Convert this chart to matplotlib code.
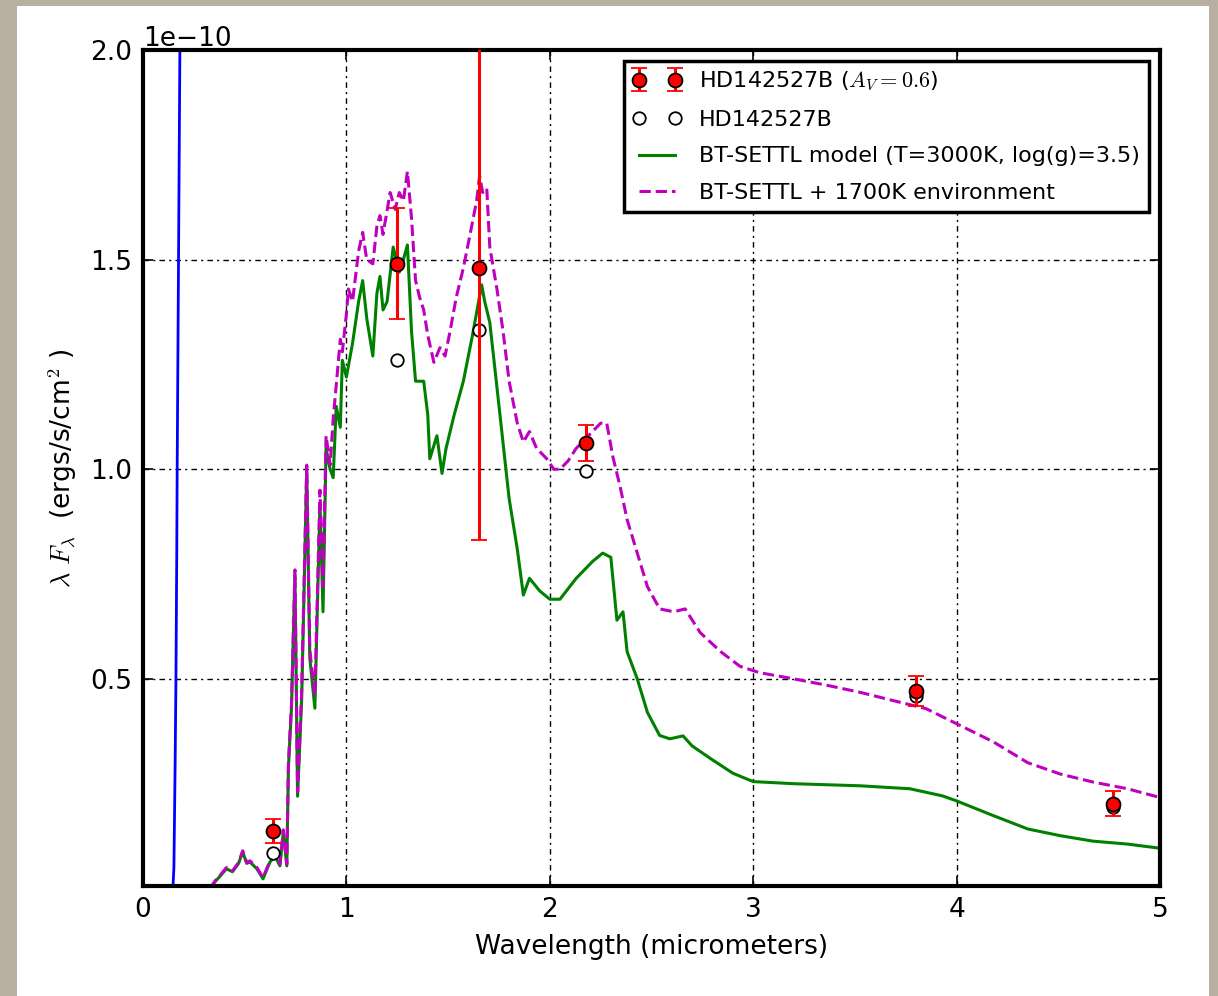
import numpy as np
import matplotlib
matplotlib.use("Agg")
import matplotlib.pyplot as plt
from matplotlib.patches import Rectangle

plt.rcParams['mathtext.fontset'] = 'cm'
plt.rcParams['font.family'] = ['DejaVu Sans']

# photometry (units of 1e-10 ergs/s/cm2)
phot_wl = [0.64, 1.25, 1.65, 2.18, 3.80, 4.77]
phot_dered = [0.137, 1.490, 1.481, 1.063, 0.471, 0.202]
phot_err = [0.028, 0.132, 0.650, 0.043, 0.036, 0.030]
phot_raw = [0.085, 1.261, 1.331, 0.997, 0.459, 0.195]

# BT-SETTL model
model_wl = [0.33, 0.354, 0.38, 0.41, 0.44, 0.47, 0.49, 0.51, 0.526, 0.56, 0.59, 0.624, 0.649,
            0.673, 0.69, 0.707, 0.715, 0.73, 0.747, 0.76, 0.78, 0.805, 0.82, 0.845, 0.87, 0.885,
            0.90, 0.92, 0.935, 0.95, 0.97, 0.98, 1.0, 1.03, 1.06, 1.08, 1.10, 1.13, 1.15, 1.165,
            1.18, 1.2, 1.23, 1.26, 1.28, 1.30, 1.32, 1.34, 1.38, 1.40, 1.41, 1.445, 1.47, 1.49,
            1.53, 1.575, 1.62, 1.665, 1.68, 1.705, 1.755, 1.80, 1.84, 1.87, 1.90, 1.95, 2.0, 2.05,
            2.13, 2.21, 2.26, 2.30, 2.33, 2.36, 2.38, 2.43, 2.48, 2.54, 2.59, 2.655, 2.70, 2.79,
            2.9, 3.0, 3.2, 3.525, 3.77, 3.93, 4.0, 4.18, 4.35, 4.51, 4.67, 4.84, 4.985, 5.0]
model_f = [0.0, 0.016, 0.03, 0.047, 0.04, 0.06, 0.087, 0.06, 0.063, 0.047, 0.023, 0.063, 0.078,
           0.054, 0.135, 0.054, 0.29, 0.43, 0.75, 0.22, 0.45, 1.0, 0.55, 0.43, 0.92, 0.66,
           1.05, 1.0, 0.98, 1.15, 1.10, 1.26, 1.22, 1.30, 1.40, 1.45, 1.36, 1.27, 1.42, 1.46,
           1.38, 1.40, 1.53, 1.47, 1.50, 1.535, 1.33, 1.21, 1.21, 1.13, 1.025, 1.08, 0.99, 1.05,
           1.13, 1.21, 1.32, 1.44, 1.40, 1.35, 1.13, 0.93, 0.81, 0.70, 0.74, 0.71, 0.69, 0.69,
           0.74, 0.78, 0.80, 0.79, 0.64, 0.66, 0.565, 0.50, 0.42, 0.365, 0.357, 0.364, 0.34, 0.31,
           0.275, 0.255, 0.25, 0.245, 0.238, 0.221, 0.209, 0.174, 0.142, 0.126, 0.113, 0.106, 0.097, 0.096]

# BT-SETTL + 1700K environment
env_wl = [0.33, 0.354, 0.38, 0.41, 0.44, 0.47, 0.49, 0.51, 0.526, 0.56, 0.59, 0.624, 0.649,
          0.673, 0.69, 0.707, 0.715, 0.73, 0.747, 0.76, 0.78, 0.805, 0.82, 0.845, 0.87, 0.885,
          0.90, 0.92, 0.935, 0.95, 0.97, 0.98, 1.0, 1.01, 1.03, 1.06, 1.08, 1.10, 1.13, 1.15,
          1.165, 1.18, 1.215, 1.24, 1.26, 1.28, 1.30, 1.32, 1.34, 1.36, 1.38, 1.40, 1.43, 1.46,
          1.485, 1.51, 1.54, 1.575, 1.61, 1.64, 1.655, 1.67, 1.69, 1.705, 1.74, 1.77, 1.80, 1.84,
          1.87, 1.90, 1.935, 1.985, 2.02, 2.05, 2.09, 2.13, 2.21, 2.25, 2.28, 2.31, 2.345, 2.38,
          2.43, 2.48, 2.54, 2.61, 2.665, 2.74, 2.84, 2.935, 3.03, 3.20, 3.36, 3.525, 3.69, 3.85,
          4.0, 4.18, 4.35, 4.51, 4.67, 4.84, 4.985, 5.0]
env_f = [0.0, 0.018, 0.032, 0.05, 0.042, 0.062, 0.09, 0.062, 0.066, 0.05, 0.026, 0.066, 0.082,
         0.058, 0.14, 0.058, 0.30, 0.44, 0.76, 0.23, 0.47, 1.01, 0.57, 0.46, 0.95, 0.72,
         1.08, 1.01, 1.12, 1.20, 1.31, 1.28, 1.37, 1.43, 1.40, 1.52, 1.565, 1.50, 1.49, 1.58,
         1.605, 1.56, 1.66, 1.62, 1.66, 1.64, 1.71, 1.60, 1.45, 1.41, 1.38, 1.32, 1.255, 1.29,
         1.27, 1.33, 1.41, 1.48, 1.565, 1.64, 1.70, 1.66, 1.67, 1.53, 1.43, 1.33, 1.21, 1.11,
         1.065, 1.09, 1.05, 1.025, 1.0, 1.0, 1.02, 1.05, 1.09, 1.11, 1.11, 1.03, 0.96, 0.88,
         0.80, 0.72, 0.667, 0.66, 0.667, 0.61, 0.565, 0.53, 0.515, 0.50, 0.485, 0.468, 0.448, 0.429,
         0.393, 0.35, 0.30, 0.273, 0.254, 0.238, 0.219, 0.217]

# steep blue curve near the left edge
blue_wl = [0.147, 0.152, 0.158, 0.162, 0.166, 0.168, 0.172, 0.176, 0.180, 0.184]
blue_f = [0.0, 0.05, 0.3, 0.5, 0.8, 1.0, 1.3, 1.6, 1.9, 2.2]

scale = 1e-10

fig = plt.figure(figsize=(12.18, 9.96), dpi=100, facecolor='#b9afa0')
panel = Rectangle((17/1218, 0), (1209-17)/1218, (996-6)/996,
                  transform=fig.transFigure, facecolor='white',
                  edgecolor='none', zorder=-10)
fig.patches.append(panel)
ax = fig.add_axes([143/1218, 1-886/996, (1160-143)/1218, (886-50)/996])
ax.set_zorder(1)

ax.plot(blue_wl, np.array(blue_f)*scale, color='b', lw=2)
ax.plot(model_wl, np.array(model_f)*scale, color='g', lw=2.2,
        label='BT-SETTL model (T=3000K, log(g)=3.5)')
ax.plot(env_wl, np.array(env_f)*scale, color='m', ls='--', lw=2.2,
        label='BT-SETTL + 1700K environment')
ax.plot(phot_wl, np.array(phot_raw)*scale, 'o', mfc='white', mec='black', mew=1.3, ms=9,
        label='HD142527B', zorder=4)
ax.errorbar(phot_wl, np.array(phot_dered)*scale, yerr=np.array(phot_err)*scale, fmt='o',
            color='red', mfc='red', mec='black', mew=1.3, ms=10, ecolor='red',
            elinewidth=2.2, capsize=6, capthick=1.5, zorder=5,
            label='HD142527B ($A_V=0.6$)')

ax.set_xlim(0, 5)
ax.set_ylim(0.006e-10, 2e-10)
ax.set_yticks([0.5e-10, 1.0e-10, 1.5e-10, 2.0e-10])
ax.grid(True, color='black', ls=(0, (4, 3, 1.5, 3)), lw=1.0)
ax.tick_params(direction='in', top=True, right=True, length=7, width=1.2,
               labelsize=19, pad=8)
ax.yaxis.get_offset_text().set_fontsize(19)
for s in ax.spines.values():
    s.set_linewidth(3)

ax.set_xlabel('Wavelength (micrometers)', fontsize=19, labelpad=8)
ax.set_ylabel(r'$\lambda\ F_\lambda$  (ergs/s/cm$^2$ )', fontsize=19, labelpad=8)

h, l = ax.get_legend_handles_labels()
order = [3, 2, 0, 1]
leg = ax.legend([h[i] for i in order], [l[i] for i in order], loc='upper right',
                numpoints=2, fontsize=16, fancybox=False, framealpha=1,
                borderaxespad=0.5, handlelength=2.2, labelspacing=0.75)
leg.get_frame().set_edgecolor('black')
leg.get_frame().set_linewidth(2.5)

fig.savefig('out.png', dpi=100, facecolor=fig.get_facecolor())
